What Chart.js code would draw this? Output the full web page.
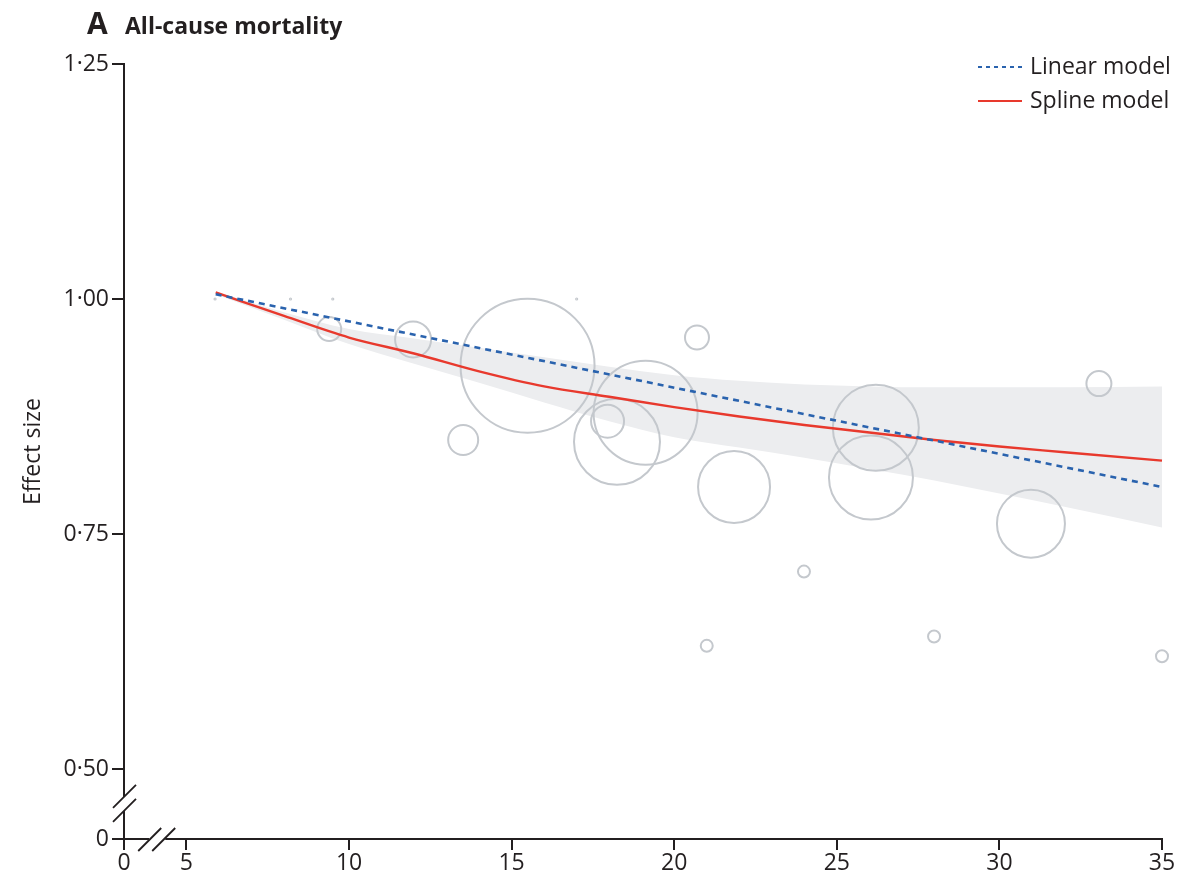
<!DOCTYPE html>
<html lang="en">
<head>
<meta charset="UTF-8">
<title>All-cause mortality</title>
<script src="https://cdn.jsdelivr.net/npm/chart.js"></script>
<style>
  html, body { margin: 0; padding: 0; background: #fff; }
</style>
</head>
<body>
<canvas id="chart" width="1182" height="882"></canvas>

<script>
// both axes are broken: the "0" tick sits at the edge, then the scale jumps
const X_ZERO_AT = 3.08;
const Y_ZERO_AT = 0.4255;

const xTicks = [5, 10, 15, 20, 25, 30, 35];
const yTicks = [0.50, 0.75, 1.00, 1.25];

// spline model and its confidence band
const splineX   = [5.9, 8, 10, 12, 14, 16, 18, 20, 22, 24, 26, 28, 30, 32, 35];
const splineY   = [1.007, 0.982, 0.959, 0.942, 0.923, 0.907, 0.896, 0.885, 0.875, 0.866, 0.858, 0.850, 0.843, 0.837, 0.828];
const bandUpper = [1.008, 0.986, 0.968, 0.958, 0.948, 0.938, 0.928, 0.919, 0.913, 0.909, 0.907, 0.906, 0.906, 0.906, 0.907];
const bandLower = [1.005, 0.978, 0.952, 0.931, 0.911, 0.890, 0.870, 0.853, 0.842, 0.831, 0.819, 0.807, 0.793, 0.779, 0.757];

// linear model
const linearX = [5.9, 35];
const linearY = [1.005, 0.800];

// individual studies (bubble size = weight)
const studyX    = [9.39, 11.97, 15.49, 13.51, 20.70, 19.12, 18.24, 17.95, 21.84, 26.20, 26.05, 30.97, 33.06, 23.99, 21.00, 27.99, 35.00, 5.88, 8.2, 9.5, 17.0];
const studyY    = [0.968, 0.957, 0.929, 0.850, 0.959, 0.879, 0.848, 0.870, 0.800, 0.863, 0.810, 0.761, 0.910, 0.710, 0.631, 0.641, 0.620, 1.0, 1.0, 1.0, 1.0];
const studySize = [12, 18, 67, 15, 12, 52, 43, 16.5, 36, 43, 42, 34, 12.5, 6, 6, 6, 6, 0.6, 0.6, 0.6, 0.6];

const ink = '#231f20';
const blue = '#2a63ae';
const red = '#e8392d';
const font = '"Open Sans", sans-serif';

const pts = (xs, ys) => xs.map((x, i) => ({ x: x, y: ys[i] }));

const decor = {
  id: 'decor',
  afterDraw(chart) {
    const { ctx, chartArea: a, scales: { x, y } } = chart;
    ctx.save();
    ctx.strokeStyle = ink;
    ctx.lineWidth = 2;

    // y axis with break between 0 and 0.50
    const yGap = (y.getPixelForValue(0.5) + a.bottom) / 2;
    ctx.beginPath();
    ctx.moveTo(a.left, a.top - 1);
    ctx.lineTo(a.left, yGap - 7);
    ctx.moveTo(a.left, yGap + 7);
    ctx.lineTo(a.left, a.bottom);
    // x axis with break between 0 and 5
    const xGap = (a.left + x.getPixelForValue(5)) / 2 + 2;
    ctx.moveTo(a.left - 1, a.bottom);
    ctx.lineTo(xGap - 8, a.bottom);
    ctx.moveTo(xGap + 8, a.bottom);
    ctx.lineTo(a.right + 1, a.bottom);
    ctx.stroke();

    ctx.lineWidth = 1.8;
    ctx.beginPath();
    [-7, 7].forEach(d => {
      ctx.moveTo(a.left - 11, yGap + d + 11);
      ctx.lineTo(a.left + 12, yGap + d - 12);
      ctx.moveTo(xGap + d - 12, a.bottom + 12);
      ctx.lineTo(xGap + d + 11, a.bottom - 11);
    });
    ctx.stroke();

    // panel title
    ctx.fillStyle = ink;
    ctx.textBaseline = 'alphabetic';
    ctx.font = 'bold 30px ' + font;
    ctx.fillText('A', 87, 34);
    ctx.font = 'bold 23px ' + font;
    ctx.fillText('All-cause mortality', 125, 34);

    // legend
    ctx.font = '23px ' + font;
    ctx.textBaseline = 'middle';
    const items = [
      { label: 'Linear model', color: blue, dash: [4, 4], y: 67 },
      { label: 'Spline model', color: red, dash: [], y: 101 }
    ];
    items.forEach(it => {
      ctx.strokeStyle = it.color;
      ctx.lineWidth = 2;
      ctx.setLineDash(it.dash);
      ctx.beginPath();
      ctx.moveTo(978, it.y);
      ctx.lineTo(1022, it.y);
      ctx.stroke();
      ctx.setLineDash([]);
      ctx.fillText(it.label, 1030, it.y);
    });
    ctx.restore();
  }
};

new Chart(document.getElementById('chart'), {
  type: 'line',
  data: {
    datasets: [
      {
        type: 'line', data: pts(splineX, bandUpper), fill: '+1',
        backgroundColor: '#ecedef', borderWidth: 0, pointRadius: 0,
        cubicInterpolationMode: 'monotone', order: 4
      },
      {
        type: 'line', data: pts(splineX, bandLower), fill: false,
        borderWidth: 0, pointRadius: 0, cubicInterpolationMode: 'monotone', order: 4
      },
      {
        type: 'bubble',
        data: studyX.map((x, i) => ({ x: x, y: studyY[i], r: studySize[i] })),
        borderColor: '#c4c8cd', backgroundColor: 'rgba(196,200,205,0.0)',
        borderWidth: 2, hoverRadius: 0, order: 3
      },
      {
        type: 'line', label: 'Linear model', data: pts(linearX, linearY),
        borderColor: blue, borderWidth: 2.6, borderDash: [6, 5],
        pointRadius: 0, fill: false, order: 1
      },
      {
        type: 'line', label: 'Spline model', data: pts(splineX, splineY),
        borderColor: red, borderWidth: 2.4, pointRadius: 0, fill: false,
        cubicInterpolationMode: 'monotone', order: 2
      }
    ]
  },
  options: {
    responsive: false,
    animation: false,
    clip: false,
    layout: { autoPadding: false, padding: { top: 64, right: 20, left: 0, bottom: 0 } },
    plugins: { legend: { display: false }, tooltip: { enabled: false } },
    scales: {
      x: {
        type: 'linear', min: X_ZERO_AT, max: 35,
        afterBuildTicks: s => { s.ticks = [X_ZERO_AT].concat(xTicks).map(v => ({ value: v })); },
        afterFit: s => { s.height = 43; },
        border: { display: false },
        grid: { drawOnChartArea: false, drawTicks: true, tickLength: 11, color: ink, lineWidth: 2 },
        ticks: {
          autoSkip: false, maxRotation: 0, padding: 0, color: ink,
          font: { family: font, size: 23 },
          callback: v => v === X_ZERO_AT ? '0' : String(v)
        }
      },
      y: {
        type: 'linear', min: Y_ZERO_AT, max: 1.25,
        afterBuildTicks: s => { s.ticks = [Y_ZERO_AT].concat(yTicks).map(v => ({ value: v })); },
        afterFit: s => { s.width = 124; },
        border: { display: false },
        grid: { drawOnChartArea: false, drawTicks: true, tickLength: 12, color: ink, lineWidth: 2 },
        title: {
          display: true, text: 'Effect size', color: ink,
          font: { family: font, size: 23 }, padding: { top: 20, bottom: 0 }
        },
        ticks: {
          autoSkip: false, padding: 3, color: ink,
          font: { family: font, size: 23 },
          callback: v => v === Y_ZERO_AT ? '0' : v.toFixed(2).replace('.', '\u00b7')
        }
      }
    }
  },
  plugins: [decor]
});
</script>
</body>
</html>
